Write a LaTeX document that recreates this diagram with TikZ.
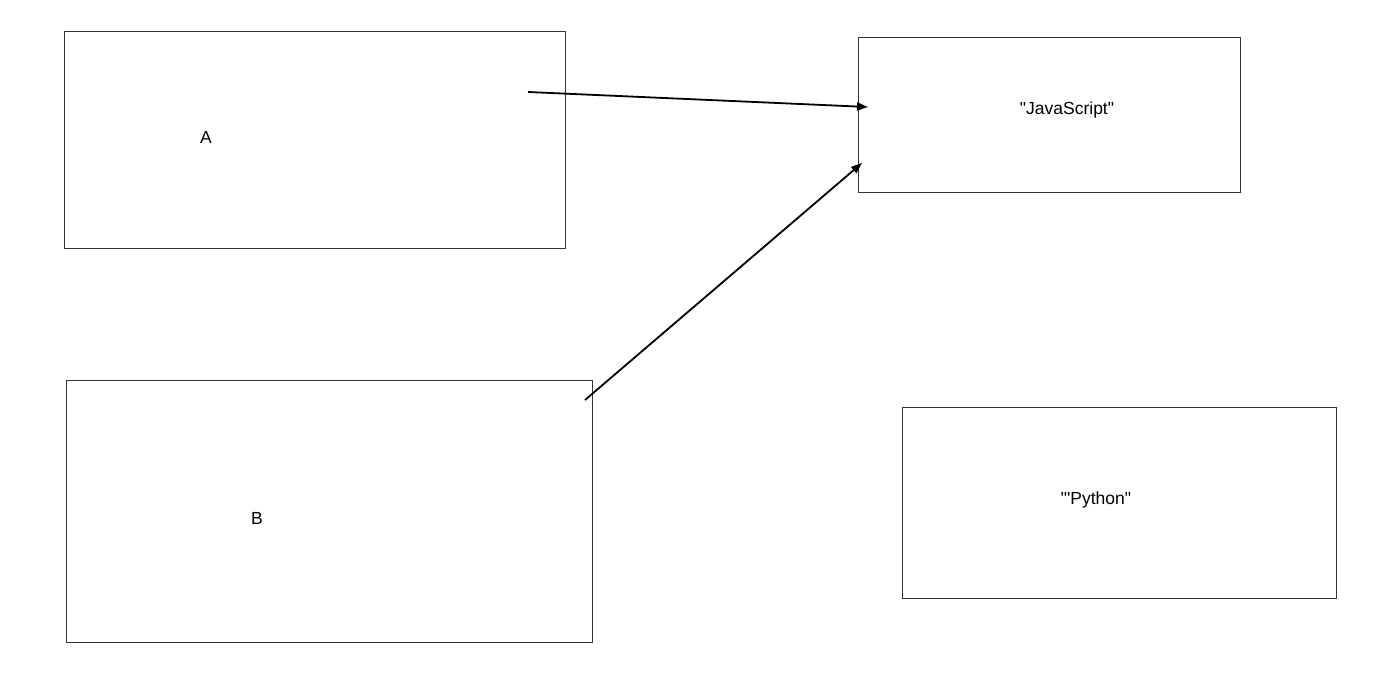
\documentclass[tikz,border=0pt]{standalone}
\usepackage{fontspec}
\setmainfont{Liberation Sans}[Ligatures=TeXOff]
\usetikzlibrary{arrows.meta}
\begin{document}
\begin{tikzpicture}[x=1pt,y=-1pt,
  boxstyle/.style={draw=black!80,line width=0.9pt},
  lbl/.style={font=\fontsize{17.5}{20}\selectfont,inner sep=0pt},
  conn/.style={draw=black,line width=1.8pt,-{Triangle[length=11pt,width=8pt]}}]
\useasboundingbox (0,0) rectangle (1400,674);
\fill[white] (0,0) rectangle (1400,674);
\draw[boxstyle] (64,31) rectangle (565,248);
\draw[boxstyle] (858,37) rectangle (1240,192);
\draw[boxstyle] (66,380) rectangle (592,642);
\draw[boxstyle] (902,407) rectangle (1336,598);
\node[lbl] (a) at (206,137) {A};
\node[lbl] (b) at (257,518) {B};
\node[lbl] (js) at (1067,110) {"JavaScript"};
\node[lbl] (py) at (1096,500) {"'Python"};
\coordinate (a1) at (528,92);
\coordinate (js1) at (868,107);
\coordinate (b1) at (585,400);
\coordinate (js2) at (862,163);
\draw[conn] (a1) -- (js1);
\draw[conn] (b1) -- (js2);
\end{tikzpicture}
\end{document}
